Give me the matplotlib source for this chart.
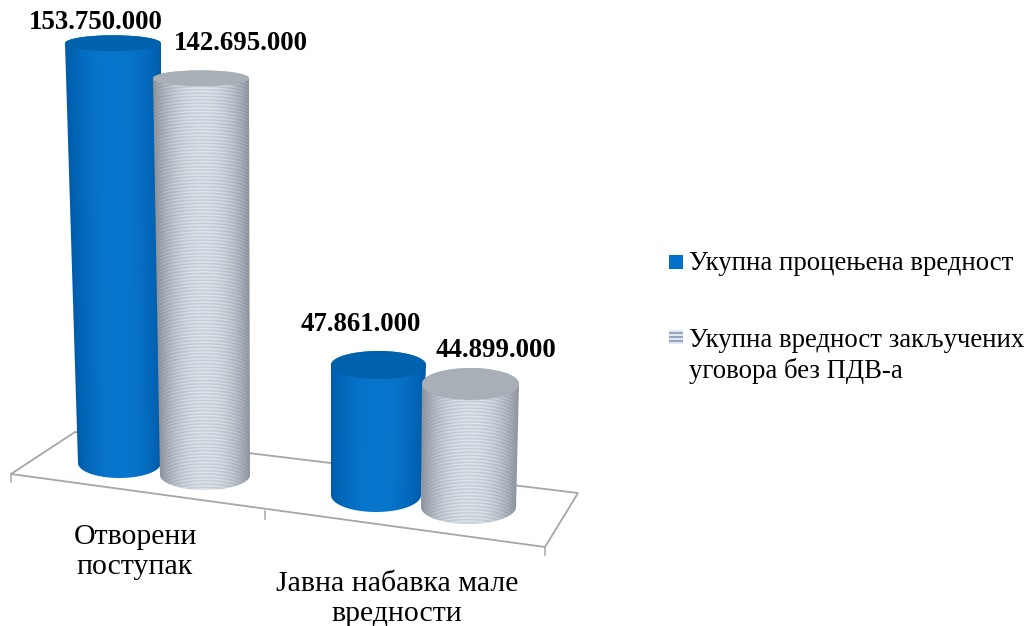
# cylinder chart, two categories and two series
import numpy as np
from matplotlib import pyplot as plt
from matplotlib.patches import Polygon, Ellipse, Rectangle

categories = ["Отворени\nпоступак", "Јавна набавка мале\nвредности"]
series_names = ["Укупна процењена вредност", "Укупна вредност закључених\nуговора без ПДВ-а"]
procenjena = [153750000, 47861000]
ugovorena = [142695000, 44899000]

plt.rcParams['font.family'] = ['Liberation Serif', 'DejaVu Serif']

# layout in pixels: one row per bar, order (cat 0 ser 0, cat 0 ser 1, cat 1 ser 0, cat 1 ser 1)
base_y = [463, 475, 495, 507]
bottom_x = [(78, 161), (160, 250), (331, 421), (421, 516)]
top_x = [(65, 161), (153, 249), (331, 426), (422, 519)]
px_per_unit = [2.73e-6, 2.78e-6, 2.716e-6, 2.74e-6]
top_ry = [8, 8, 14, 16]
bottom_ry = [15, 15, 17, 17]
label_x = [96, 241, 361, 496]
label_gap = [21, 35, 41, 33]


def shade(u, kind):
    # u goes 0 to 1 across the bar
    t = 1 - np.abs(2 * u - 1) ** 2.2
    if kind == 0:
        dark = np.array([0, 92, 170])
        light = np.array([8, 118, 205])
    else:
        dark = np.array([150, 158, 168])
        light = np.array([226, 234, 243])
    return dark + (light - dark) * t[..., None]


def cylinder(ax, xt, xb, ytop, ybot, rt, rb, kind):
    th = np.linspace(np.pi, 2 * np.pi, 60)
    cxt, axt = (xt[0] + xt[1]) / 2, (xt[1] - xt[0]) / 2
    cxb, axb = (xb[0] + xb[1]) / 2, (xb[1] - xb[0]) / 2
    upper = np.c_[cxt + axt * np.cos(th), ytop + rt * np.sin(th)]
    lower = np.c_[cxb + axb * np.cos(th[::-1]), ybot - rb * np.sin(th[::-1])]
    body = Polygon(np.r_[upper, lower], closed=True, fc='none', ec='none')
    ax.add_patch(body)

    x0, x1 = int(min(xt[0], xb[0])) - 1, int(max(xt[1], xb[1])) + 2
    y0, y1 = int(ytop - rt) - 1, int(ybot + rb) + 2
    xx, yy = np.meshgrid(np.arange(x0, x1, 0.5), np.arange(y0, y1, 0.5))
    f = (yy - ytop) / (ybot - ytop)
    left = xt[0] + (xb[0] - xt[0]) * f
    right = xt[1] + (xb[1] - xt[1]) * f
    u = np.clip((xx - left) / (right - left), 0, 1)
    img = shade(u, kind)
    if kind == 1:
        # fine ring lines on the grey bars
        ry = rt + (rb - rt) * f
        curved = yy + ry * np.sqrt(1 - (2 * u - 1) ** 2)
        img = img * (0.93 + 0.07 * np.sin(2 * np.pi * curved / 3.4))[..., None]
    im = ax.imshow(np.clip(img, 0, 255).astype(np.uint8),
                   extent=(x0, x1, y1, y0), aspect='auto', interpolation='bilinear', zorder=3)
    im.set_clip_path(body)

    top_color = '#0062AC' if kind == 0 else '#A9AFB7'
    ax.add_patch(Ellipse((cxt, ytop), 2 * axt, 2 * rt, fc=top_color, ec='none', zorder=4))


fig = plt.figure(figsize=(10.30, 6.26), dpi=100)
ax = fig.add_axes([0, 0, 1, 1])

# floor of the 3d chart
floor = [(11, 474), (75, 432), (578, 493), (545, 547)]
ax.add_patch(Polygon(floor, closed=True, fc='none', ec='#A6A6A6', lw=1.3, zorder=1))
for tx, ty in [(11, 474), (265, 511), (545, 547)]:
    ax.plot([tx, tx], [ty, ty + 8], color='#A6A6A6', lw=1.1, zorder=1)

values = [procenjena[0], ugovorena[0], procenjena[1], ugovorena[1]]
kinds = [0, 1, 0, 1]
for i, v in enumerate(values):
    ytop = base_y[i] - v * px_per_unit[i]
    cylinder(ax, top_x[i], bottom_x[i], ytop, base_y[i], top_ry[i], bottom_ry[i], kinds[i])
    ax.text(label_x[i], ytop - label_gap[i], f"{v:,}".replace(",", "."), ha='center', va='center',
            fontsize=19.4, fontweight='bold', color='black', zorder=6)

for c, (cx, cy) in zip(categories, [(135, 552), (397, 599)]):
    ax.text(cx, cy, c, ha='center', va='center', fontsize=21.5, linespacing=1.22, color='black')

# legend
ax.add_patch(Rectangle((669, 255), 14, 14, fc='#0070C8', ec='none'))
ax.text(689, 263, series_names[0], ha='left', va='center', fontsize=19.3, color='black')
stripes = np.array([[222, 230, 240], [150, 165, 190], [222, 230, 240], [150, 165, 190],
                    [222, 230, 240], [150, 165, 190], [222, 230, 240]], dtype=np.uint8)
ax.imshow(stripes[:, None, :], extent=(669, 683, 344, 330), aspect='auto', interpolation='nearest')
ax.text(689, 356, series_names[1], ha='left', va='center', fontsize=19.3, linespacing=1.24, color='black')

ax.set_xlim(0, 1030)
ax.set_ylim(626, 0)
ax.axis('off')
fig.savefig('out.png', dpi=100)
